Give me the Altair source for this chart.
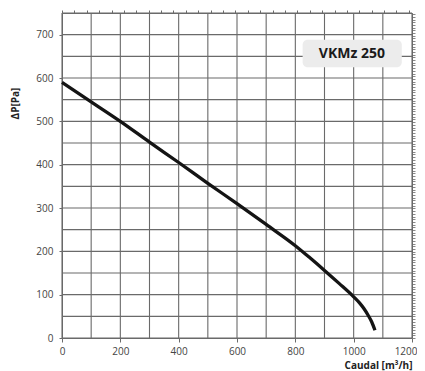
import altair as alt
import pandas as pd

flow = [0, 100, 200, 300, 400, 500, 600, 700, 800, 850, 900, 950, 1000, 1020, 1035, 1050, 1062, 1073]
pressure = [590, 545, 500, 452, 405, 357, 310, 262, 213, 185, 156, 126, 95, 81, 68, 52, 37, 18]

x_ticks = [0, 200, 400, 600, 800, 1000, 1200]
x_grid = list(range(0, 1201, 100))
y_ticks = [0, 100, 200, 300, 400, 500, 600, 700]
y_grid = list(range(0, 751, 50))
cfm_ticks = [i * 42.475 for i in range(0, 29)]
inwg_ticks = [i * 6.2275 for i in range(0, 121)]

label_text = ["VKMz 250"]
label_x = [994]
label_y = [656]
box_x = [825]
box_x2 = [1165]
box_y = [625]
box_y2 = [688]

df = pd.DataFrame({"q": flow, "p": pressure})
lab = pd.DataFrame({"t": label_text, "x": label_x, "y": label_y,
                    "x1": box_x, "x2": box_x2, "y1": box_y, "y2": box_y2})

xs = alt.Scale(domain=[0, 1200], nice=False, zero=False)
ys = alt.Scale(domain=[0, 750], nice=False, zero=False)

grid_color = "#6a6a6a"

line = alt.Chart(df).mark_line(color="#141414", strokeWidth=3.3, interpolate="monotone").encode(
    x=alt.X("q:Q", scale=xs,
            axis=alt.Axis(values=x_ticks, grid=False, title="Caudal [m³/h]", format="d",
                          titleX=350, titleY=22, titleAlign="right", titleAnchor="end",
                          titleBaseline="top",
                          titleFont="Open Sans", titleFontSize=10, titleFontWeight="bold", titleColor="#222",
                          labelFont="Open Sans", labelFontSize=10, labelColor="#444",
                          labelAlign=alt.expr("datum.value == 1200 ? 'right' : 'center'"),
                          labelOffset=alt.expr("datum.value == 1200 ? 5 : 0"),
                          labelPadding=4, tickSize=4, tickColor=grid_color,
                          domainColor=grid_color, labelFlush=False, labelOverlap=False)),
    y=alt.Y("p:Q", scale=ys,
            axis=alt.Axis(values=y_ticks, grid=False, title="ΔP[Pa]", format="d",
                          titleX=-42, titleY=90, titleAngle=270, titleAlign="center",
                          titleFont="Open Sans", titleFontSize=10, titleFontWeight="bold", titleColor="#222",
                          labelFont="Open Sans", labelFontSize=10, labelColor="#444",
                          labelPadding=6, tickSize=3, tickColor=grid_color,
                          domainColor=grid_color)),
)

vgrid = alt.Chart(pd.DataFrame({"g": x_grid})).mark_rule(color=grid_color, strokeWidth=1.1).encode(
    x=alt.X("g:Q", scale=xs, axis=None))
hgrid = alt.Chart(pd.DataFrame({"g": y_grid})).mark_rule(color=grid_color, strokeWidth=1.1).encode(
    y=alt.Y("g:Q", scale=ys, axis=None))

top_axis = alt.Chart(pd.DataFrame({"g": cfm_ticks})).mark_point(opacity=0).encode(
    x=alt.X("g:Q", scale=xs,
            axis=alt.Axis(orient="top", values=cfm_ticks, labels=False, title=None, grid=False,
                          tickSize=3, tickColor=grid_color, domainColor=grid_color)))
right_axis = alt.Chart(pd.DataFrame({"g": inwg_ticks})).mark_point(opacity=0).encode(
    y=alt.Y("g:Q", scale=ys,
            axis=alt.Axis(orient="right", values=inwg_ticks, labels=False, title=None, grid=False,
                          tickSize=3, tickColor="#888", domainColor=grid_color)))

box = alt.Chart(lab).mark_rect(color="#ececec", cornerRadius=5).encode(
    x=alt.X("x1:Q", scale=xs, axis=None), x2="x2:Q",
    y=alt.Y("y1:Q", scale=ys, axis=None), y2="y2:Q")
txt = alt.Chart(lab).mark_text(font="Noto Sans", fontSize=14, fontWeight="bold", color="#1a1a1a").encode(
    x=alt.X("x:Q", scale=xs, axis=None), y=alt.Y("y:Q", scale=ys, axis=None), text="t:N")

chart = alt.layer(vgrid, hgrid, top_axis, right_axis, box, txt, line).resolve_axis(
    x="independent", y="independent"
).properties(
    width=350, height=325,
    autosize=alt.AutoSizeParams(type="none"),
    padding={"left": 54, "top": 5, "right": 5, "bottom": 45},
).configure_view(stroke=None).configure(background="white")

chart.save("out.html", embed_options={"renderer": "svg", "actions": False})
